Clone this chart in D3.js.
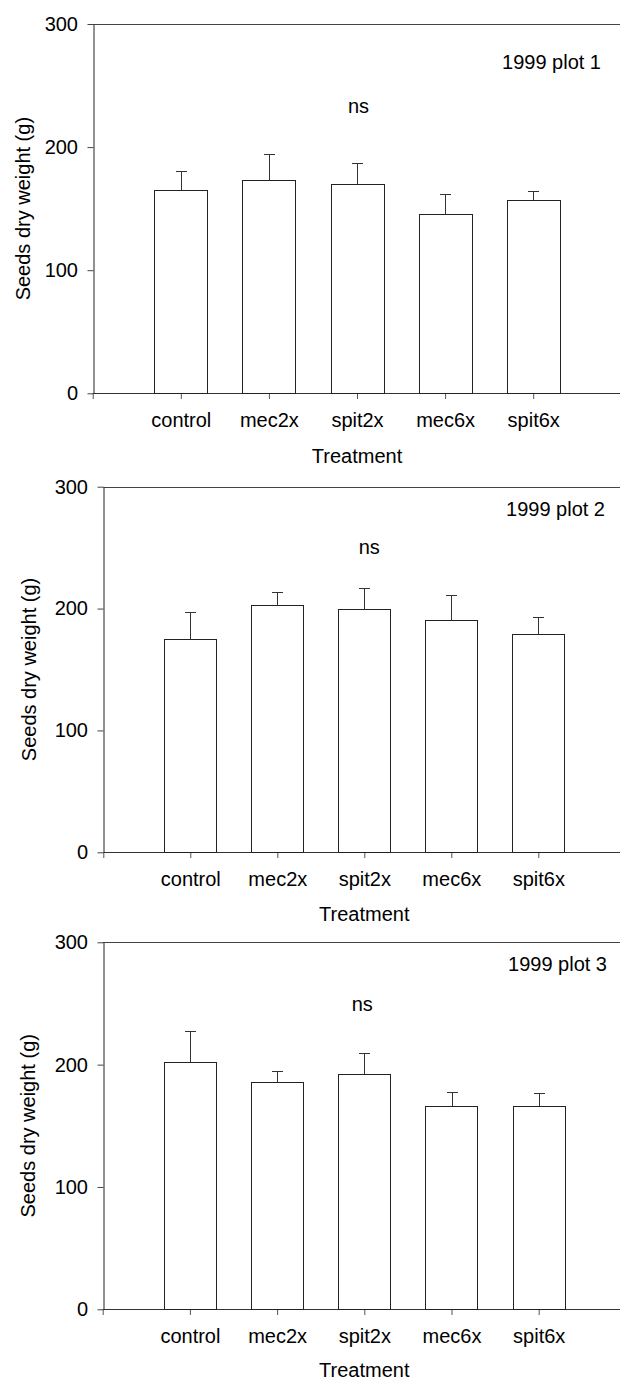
<!DOCTYPE html>
<html>
<head>
<meta charset="utf-8">
<script src="https://cdn.jsdelivr.net/npm/d3@7"></script>
<style>
  html, body { margin: 0; padding: 0; background: #fff; }
  svg { display: block; }
  text { font-family: "Liberation Sans", Arial, sans-serif; fill: #000; }
</style>
</head>
<body>
<script>
// ---- data ----
const categories = ["control", "mec2x", "spit2x", "mec6x", "spit6x"];
const plot1Means  = [165, 173.5, 170, 146, 157];
const plot1Errors = [15.5, 21, 17, 15.5, 7.5];
const plot2Means  = [175, 203, 200, 191, 179];
const plot2Errors = [22, 11, 17, 20, 14];
const plot3Means  = [202.5, 185.5, 192, 166.5, 166.5];
const plot3Errors = [25, 9.5, 17.5, 11.5, 10];
const yTicks = [0, 100, 200, 300];
const panelTitles = ["1999 plot 1", "1999 plot 2", "1999 plot 3"];
const significance = ["ns", "ns", "ns"];
const xAxisTitle = "Treatment";
const yAxisTitle = "Seeds dry weight (g)";

// ---- layout ----
const W = 620, H = 1381;
const layout = [
  { x0: 92.7,  step: 88.1, top: 24,    bottom: 393.3,  titleX: 601, titleDy: 45.3, nsDx: 1.5, nsDy: 89,   yLabX: 29.5, xTitleDy: 69.7 },
  { x0: 103.3, step: 87.0, top: 486.7, bottom: 852.3,  titleX: 605, titleDy: 29.5, nsDx: 5,   nsDy: 67.3, yLabX: 35.8, xTitleDy: 68.5 },
  { x0: 102.7, step: 87.2, top: 942.3, bottom: 1309.3, titleX: 607, titleDy: 28.2, nsDx: -2,  nsDy: 68.7, yLabX: 34.6, xTitleDy: 67.2 }
];
const means = [plot1Means, plot2Means, plot3Means];
const errors = [plot1Errors, plot2Errors, plot3Errors];

const svg = d3.select("body").append("svg").attr("width", W).attr("height", H);

layout.forEach((L, p) => {
  const g = svg.append("g");
  const x = d3.scaleLinear().domain([0, 6]).range([L.x0, L.x0 + 6 * L.step]);
  const y = d3.scaleLinear().domain([0, 300]).range([L.bottom, L.top]);
  const fs = 20;

  // top frame line
  g.append("line")
    .attr("x1", L.x0).attr("x2", W + 10)
    .attr("y1", Math.round(y(300)) + 0.5).attr("y2", Math.round(y(300)) + 0.5)
    .attr("stroke", "#444").attr("stroke-width", 1);

  // baseline at 0
  g.append("line")
    .attr("x1", L.x0).attr("x2", W + 10)
    .attr("y1", Math.round(y(0)) + 0.5).attr("y2", Math.round(y(0)) + 0.5)
    .attr("stroke", "#333").attr("stroke-width", 1);

  // bars
  const barW = 0.6 * L.step;
  const data = categories.map((c, i) => ({ c, i, m: means[p][i], e: errors[p][i] }));
  g.selectAll("rect.bar").data(data).enter().append("rect")
    .attr("class", "bar")
    .attr("x", d => Math.round(x(d.i + 1) - barW / 2) + 0.5)
    .attr("y", d => Math.round(y(d.m)) + 0.5)
    .attr("width", Math.round(barW))
    .attr("height", d => Math.round(y(0)) - Math.round(y(d.m)))
    .attr("fill", "#fff").attr("stroke", "#222").attr("stroke-width", 1);

  // error bars (upper only)
  g.selectAll("line.err").data(data).enter().append("line")
    .attr("class", "err")
    .attr("x1", d => Math.round(x(d.i + 1)) + 0.5).attr("x2", d => Math.round(x(d.i + 1)) + 0.5)
    .attr("y1", d => Math.round(y(d.m)) + 0.5).attr("y2", d => Math.round(y(d.m + d.e)) + 0.5)
    .attr("stroke", "#333").attr("stroke-width", 1);
  g.selectAll("line.cap").data(data).enter().append("line")
    .attr("class", "cap")
    .attr("x1", d => Math.round(x(d.i + 1)) - 5).attr("x2", d => Math.round(x(d.i + 1)) + 6)
    .attr("y1", d => Math.round(y(d.m + d.e)) + 0.5).attr("y2", d => Math.round(y(d.m + d.e)) + 0.5)
    .attr("stroke", "#333").attr("stroke-width", 1);

  // y axis
  const yAxis = g.append("g")
    .attr("transform", `translate(${Math.round(L.x0) + 0.5},0)`)
    .call(d3.axisLeft(y).tickValues(yTicks).tickSize(6).tickSizeOuter(0).tickPadding(9.5).tickFormat(d3.format("d")));
  yAxis.select(".domain").attr("stroke", "#222");
  yAxis.selectAll(".tick line").attr("stroke", "#444");
  yAxis.selectAll("text").attr("font-size", fs).attr("font-family", "Liberation Sans, Arial, sans-serif").attr("fill", "#000");

  // x axis (ticks below baseline)
  const xAxis = g.append("g")
    .attr("transform", `translate(0,${Math.round(y(0)) + 1})`)
    .call(d3.axisBottom(x).tickValues([0, 1, 2, 3, 4, 5]).tickSize(5).tickSizeOuter(0).tickPadding(13.5)
      .tickFormat(d => d === 0 ? "" : categories[d - 1]));
  xAxis.select(".domain").remove();
  xAxis.selectAll(".tick line").attr("stroke", "#555");
  xAxis.selectAll("text").attr("font-size", fs).attr("font-family", "Liberation Sans, Arial, sans-serif").attr("fill", "#000");

  // x axis title
  g.append("text")
    .attr("x", x(3)).attr("y", L.bottom + L.xTitleDy)
    .attr("text-anchor", "middle").attr("font-size", fs)
    .text(xAxisTitle);

  // y axis title
  g.append("text")
    .attr("transform", `translate(${L.yLabX},${(L.top + L.bottom) / 2}) rotate(-90)`)
    .attr("text-anchor", "middle").attr("font-size", fs)
    .text(yAxisTitle);

  // panel title
  g.append("text")
    .attr("x", L.titleX).attr("y", L.top + L.titleDy)
    .attr("text-anchor", "end").attr("font-size", fs)
    .text(panelTitles[p]);

  // significance
  g.append("text")
    .attr("x", x(3) + L.nsDx).attr("y", L.top + L.nsDy)
    .attr("text-anchor", "middle").attr("font-size", fs)
    .text(significance[p]);
});
</script>
</body>
</html>
